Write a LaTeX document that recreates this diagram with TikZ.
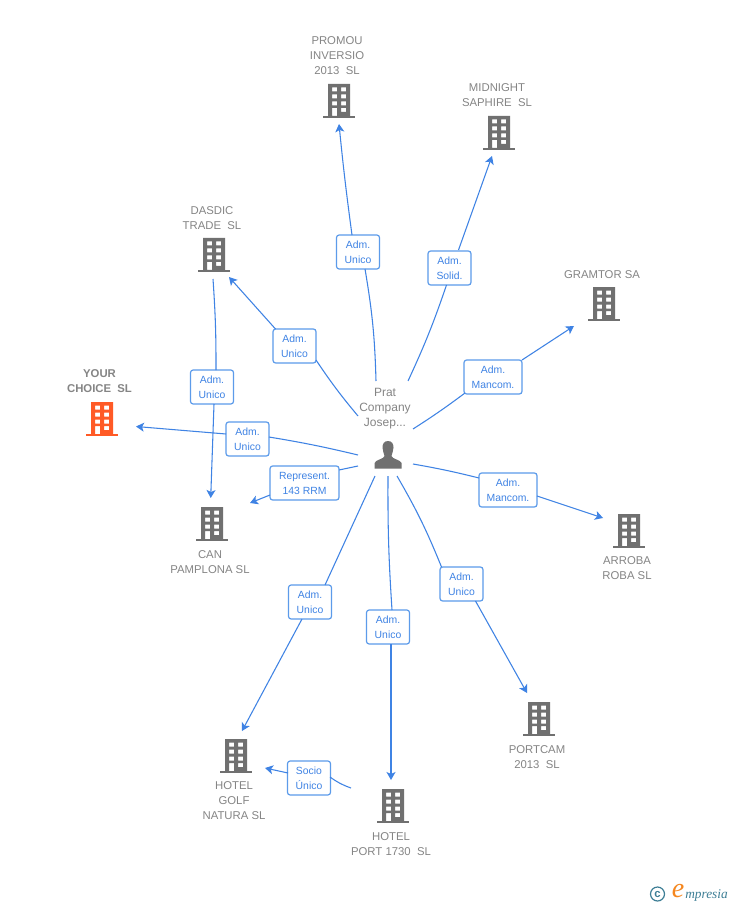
\documentclass[tikz,border=0pt]{standalone}
\usepackage{fontspec}
\setmainfont{Liberation Sans}
\newfontfamily\logofont{Liberation Serif}
\usetikzlibrary{arrows.meta}
\definecolor{linkblue}{HTML}{3F83E4}
\definecolor{boxblue}{HTML}{5C9BEA}
\definecolor{txtblue}{HTML}{3F83E4}
\definecolor{iconGray}{HTML}{707070}
\definecolor{nameGray}{HTML}{858585}
\definecolor{hotOrange}{HTML}{FF5A26}
\definecolor{logoTeal}{HTML}{3E7F96}
\definecolor{logoOrange}{HTML}{F5871F}
\newcommand{\bldg}[4]{% name, x, y, colour
  \node[minimum width=24pt,minimum height=25.5pt,inner sep=0pt] (#1) at (#2,#3) {};
  \begin{scope}[shift={(#2,#3)}]
    \fill[#4,even odd rule] (-11,-17) rectangle (11,15)
      (-7,-13.5) rectangle (-2,-9.5) (2,-13.5) rectangle (7,-9.5)
      (-7,-6.5) rectangle (-2,-2.5) (2,-6.5) rectangle (7,-2.5)
      (-7,0.5) rectangle (-2,4.5) (2,0.5) rectangle (7,4.5)
      (-7,7) rectangle (-2,15) (2,7) rectangle (7,11);
    \fill[#4] (-16,14.8) rectangle (16,17);
  \end{scope}}
\tikzset{
  x=0.75pt,y=-0.75pt,
  lab/.style={draw=boxblue,line width=0.9pt,rounded corners=2pt,fill=white,text=txtblue,
    font=\fontsize{7.8}{11.25}\selectfont,align=center,inner sep=0pt,minimum height=25.5pt},
  w44/.style={minimum width=32.25pt},
  w58/.style={minimum width=43.5pt},
  w69/.style={minimum width=51.75pt},
  bname/.style={text=nameGray,font=\fontsize{8.5}{11.25}\selectfont,align=center,inner sep=0pt},
  conn/.style={draw=linkblue,line width=0.8pt},
  arr/.style={conn,-{Stealth[length=6pt,width=6.75pt,inset=1.5pt]}},
}
\begin{document}
\begin{tikzpicture}
\useasboundingbox (0,0) rectangle (728,905);
\fill[white] (0,0) rectangle (728,905);

% buildings
\bldg{promou}{339}{101}{iconGray}
\bldg{midnight}{499}{133}{iconGray}
\bldg{gramtor}{604}{304}{iconGray}
\bldg{dasdic}{214}{255}{iconGray}
\bldg{yourchoice}{102}{419}{hotOrange}
\bldg{can}{212}{524}{iconGray}
\bldg{arroba}{629}{531}{iconGray}
\bldg{portcam}{539}{719}{iconGray}
\bldg{golf}{236}{756}{iconGray}
\bldg{port}{393}{806}{iconGray}

% building names
\node[bname] (tpromou) at (337,56) {PROMOU\\INVERSIO\\2013\ \ SL};
\node[bname] (tmidnight) at (497,95.5) {MIDNIGHT\\SAPHIRE\ \ SL};
\node[bname] (tgramtor) at (602,275) {GRAMTOR SA};
\node[bname] (tdasdic) at (212,218.5) {DASDIC\\TRADE\ \ SL};
\node[bname,font=\bfseries\fontsize{8.5}{11.25}\selectfont] (tyour) at (99.5,381.5) {YOUR\\CHOICE\ \ SL};
\node[bname] (tcan) at (210,562.5) {CAN\\PAMPLONA SL};
\node[bname] (tarroba) at (627,568.5) {ARROBA\\ROBA SL};
\node[bname] (tportcam) at (537,757.5) {PORTCAM\\2013\ \ SL};
\node[bname] (tgolf) at (234,801) {HOTEL\\GOLF\\NATURA SL};
\node[bname] (tport) at (391,844.5) {HOTEL\\PORT 1730\ \ SL};
\node[bname,font=\fontsize{9}{11.25}\selectfont] (tprat) at (385,408.5) {Prat\\Company\\Josep...};

% person
\node[minimum width=21pt,minimum height=21pt,inner sep=0pt] (person) at (388,455) {};
\fill[iconGray] (388,441) .. controls (384,441) and (382.5,444) .. (382.5,447.5)
  .. controls (382.5,451) and (384,453) .. (384.5,456) .. controls (384,459) and (376,459.5) .. (374.5,463)
  -- (374.5,468.5) -- (401.5,468.5) -- (401.5,463) .. controls (400,459.5) and (392,459) .. (391.5,456)
  .. controls (392,453) and (393.5,451) .. (393.5,447.5) .. controls (393.5,444) and (392,441) .. (388,441) -- cycle;

% free ends of connectors
\coordinate (s1) at (376,381); \coordinate (e1) at (339,124);
\coordinate (s2) at (408,381); \coordinate (e2) at (492,156);
\coordinate (s3) at (413,429); \coordinate (e3) at (574,326);
\coordinate (s4) at (413,464); \coordinate (e4) at (603,518);
\coordinate (s5) at (397,476); \coordinate (e5) at (527,693);
\coordinate (s6) at (388,476); \coordinate (e6) at (391,780);
\coordinate (s7) at (375,476); \coordinate (e7) at (242,731);
\coordinate (s8) at (358,466); \coordinate (e8) at (250,503);
\coordinate (s9) at (358,455); \coordinate (e9) at (136,426.5);
\coordinate (s10) at (358,416); \coordinate (e10) at (229,277);
\coordinate (s11) at (213,279); \coordinate (e11) at (210.7,498);
\coordinate (s12) at (351,788); \coordinate (e12) at (265,768);

% labels
\node[lab,w44] (l1) at (358,252) {Adm.\\Unico};
\node[lab,w44] (l2) at (449.5,268) {Adm.\\Solid.};
\node[lab,w58] (l3) at (493,377) {Adm.\\Mancom.};
\node[lab,w58] (l4) at (508,490) {Adm.\\Mancom.};
\node[lab,w44] (l5) at (461.5,584) {Adm.\\Unico};
\node[lab,w44] (l6) at (388,627) {Adm.\\Unico};
\node[lab,w44] (l7) at (310,602) {Adm.\\Unico};
\node[lab,w69] (l8) at (304.5,483) {Represent.\\143 RRM};
\node[lab,w44] (l9) at (247.5,439) {Adm.\\Unico};
\node[lab,w44] (l10) at (294.5,346) {Adm.\\Unico};
\node[lab,w44] (l11) at (212,387) {Adm.\\Unico};
\node[lab,w44] (l12) at (309,778) {Socio\\Único};

% connectors
\draw[conn] (s1) to[bend right=4] ([shift={(7,17)}]l1.center);
\draw[arr] ([shift={(-6,-17)}]l1.center) to[bend left=1] (e1);
\draw[conn] (s2) to[bend right=3] ([shift={(-3,17)}]l2.center);
\draw[arr] ([shift={(9,-18)}]l2.center) to (e2);
\draw[conn] (s3) to[bend right=2] ([shift={(-28,16)}]l3.center);
\draw[arr] ([shift={(29,-17)}]l3.center) to (e3);
\draw[conn] (s4) to[bend left=2] ([shift={(-29,-12)}]l4.center);
\draw[arr] ([shift={(29,6)}]l4.center) to (e4);
\draw[conn] (s5) to[bend left=4] ([shift={(-20,-17)}]l5.center);
\draw[arr] ([shift={(14,17)}]l5.center) to (e5);
\draw[conn] (s6) to[bend right=2] ([shift={(4,-17)}]l6.center);
\draw[arr] ([shift={(3,17)}]l6.center) to (e6);
\draw[conn] (s7) to ([shift={(15,-17)}]l7.center);
\draw[arr] ([shift={(-8,17)}]l7.center) to (e7);
\draw[conn] (s8) to ([shift={(34.5,-13)}]l8.center);
\draw[arr] ([shift={(-34.5,12)}]l8.center) to (e8);
\draw[conn] (s9) to[bend right=2] ([shift={(21.5,-2)}]l9.center);
\draw[arr] ([shift={(-21.5,-5)}]l9.center) to (e9);
\draw[conn] (s10) to[bend left=3] ([shift={(21.5,14)}]l10.center);
\draw[arr] ([shift={(-19,-17)}]l10.center) to (e10);
\draw[conn] (s11) to[bend left=2] ([shift={(4,-17)}]l11.center);
\draw[arr] ([shift={(2,17)}]l11.center) to (e11);
\draw[conn] (s12) to[bend left=8] ([shift={(21,-1)}]l12.center);
\draw[arr] ([shift={(-21,-5)}]l12.center) to (e12);

% logo
\node[circle,draw=logoTeal,line width=0.9pt,minimum size=10.5pt,inner sep=0pt,text=logoTeal,font=\bfseries\fontsize{8.5}{8}\selectfont] (copyr) at (657.5,894) {c};
\node[inner sep=0pt,text=logoOrange,font=\logofont\itshape\fontsize{21}{21}\selectfont] (logoe) at (678,891) {e};
\node[inner sep=0pt,anchor=west,text=logoTeal,font=\logofont\itshape\fontsize{10}{11}\selectfont] (logot) at (685,895) {mpresia};
\end{tikzpicture}
\end{document}
